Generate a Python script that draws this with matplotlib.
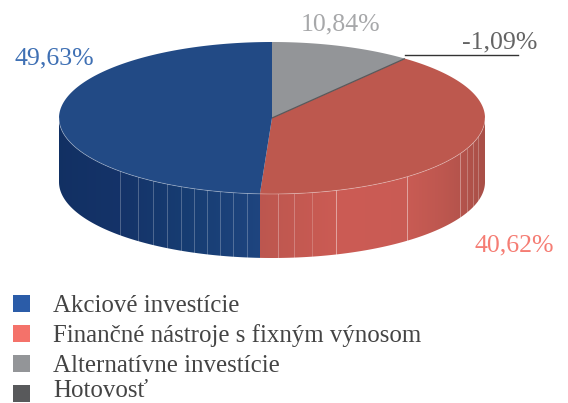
import numpy as np
import matplotlib
matplotlib.use('Agg')
import matplotlib.pyplot as plt
from matplotlib.patches import Polygon, Rectangle

# chart values, clockwise from 12 o'clock
categories = ['Alternatívne investície', 'Hotovosť', 'Finančné nástroje s fixným výnosom', 'Akciové investície']
values = [10.84, -1.09, 40.62, 49.63]
value_labels = ['10,84%', '-1,09%', '40,62%', '49,63%']
legend_order = [3, 2, 0, 1]

top_colors = ['#939598', '#58595b', '#bd584e', '#224a85']
legend_colors = ['#939598', '#58595b', '#f4726a', '#2b5ca8']
label_colors = ['#a7a8aa', '#646464', '#f57d74', '#3f70b4']

plt.rcParams['font.family'] = ['Liberation Serif', 'DejaVu Serif']

# ellipse geometry in pixels
cx, cy = 272, 118
rx, ry = 213, 76
depth = 64


def edge(t):
    t = np.radians(t)
    return cx + rx * np.sin(t), cy - ry * np.cos(t)


fig = plt.figure(figsize=(5.68, 4.03), dpi=100)
ax = fig.add_axes([0, 0, 1, 1])

# negative value gets only a sliver, the rest shares the full circle
positive_total = sum(v for v in values if v > 0)
angles = [0]
for v in values:
    angles.append(angles[-1] + max(v, 0) / positive_total * 360)

# side wall: horizontal colour ramp clipped to the wall shape
red_stops = ([261, 340, 405, 445, 485], [(0.74, 0.34, 0.31), (0.80, 0.36, 0.33), (0.79, 0.36, 0.33), (0.74, 0.34, 0.31), (0.66, 0.31, 0.28)])
blue_stops = ([59, 120, 190, 261], [(0.07, 0.19, 0.39), (0.08, 0.20, 0.41), (0.09, 0.24, 0.45), (0.12, 0.27, 0.50)])


def strip_color(x, stops):
    return [np.interp(x, stops[0], [c[i] for c in stops[1]]) for i in range(3)]


split_x, _ = edge(angles[3])
ramp_x = np.arange(59, 486)
ramp = np.array([[strip_color(x + 0.5, red_stops if x + 0.5 > split_x else blue_stops) for x in ramp_x]])
wall = ax.imshow(ramp, extent=(59, 486, 270, 100), aspect='auto', interpolation='nearest', zorder=1)
t = np.linspace(90, 270, 300)
x, y = edge(t)
wall_shape = Polygon(np.r_[np.c_[x, y], np.c_[x, y + depth][::-1]], closed=True, transform=ax.transData, facecolor='none', edgecolor='none')
ax.add_patch(wall_shape)
wall.set_clip_path(wall_shape)

# facet lines on the wall
facet_x = [120, 138, 153, 167, 181, 194, 207, 220, 233, 247, 278, 294, 312, 336, 407, 460, 467, 473, 478]
facet_alpha = [0.25, 0.25, 0.25, 0.25, 0.25, 0.25, 0.25, 0.25, 0.25, 0.25, 0.3, 0.25, 0.2, 0.45, 0.45, 0.35, 0.25, 0.25, 0.25]
for fx, al in zip(facet_x, facet_alpha):
    dy = ry * np.sqrt(1 - ((fx - cx) / rx) ** 2)
    ax.plot([fx, fx], [cy + dy, cy + dy + depth], color='white', lw=0.7, alpha=al, zorder=2)

# top surface
for i, v in enumerate(values):
    t = np.linspace(angles[i], angles[i + 1], 200)
    x, y = edge(t)
    pts = np.r_[[[cx, cy]], np.c_[x, y]]
    ax.add_patch(Polygon(pts, closed=True, facecolor=top_colors[i], edgecolor='none', zorder=3))

# the thin dark slice between grey and red
x1, y1 = edge(angles[1])
ax.plot([cx, x1], [cy, y1], color=top_colors[1], lw=0.9, solid_capstyle='butt', zorder=4)

# light rim along the front edge
t = np.linspace(90, 270, 300)
x, y = edge(t)
ax.plot(x, y, color='white', lw=0.6, alpha=0.35, zorder=4)

# value labels
ax.text(54, 58, value_labels[3], color=label_colors[3], fontsize=18.6, ha='center', va='center')
ax.text(341, 24, value_labels[0], color=label_colors[0], fontsize=18.6, ha='center', va='center')
ax.text(500, 42, value_labels[1], color=label_colors[1], fontsize=18.6, ha='center', va='center')
ax.text(514, 245, value_labels[2], color=label_colors[2], fontsize=18.6, ha='center', va='center')
ax.plot([405, 518], [55, 55], color='#333333', lw=1, zorder=4)

# legend, last row sits a little higher so it stays inside the picture
legend_y = [295, 325, 355, 385]
text_y = [312, 342, 372, 397]
for y, ty, i in zip(legend_y, text_y, legend_order):
    ax.add_patch(Rectangle((13, y), 17, 17, facecolor=legend_colors[i], edgecolor='none'))
    ax.text(53, ty, categories[i], color='#444444', fontsize=17.9, ha='left', va='baseline')

ax.set_xlim(0, 568)
ax.set_ylim(403, 0)
ax.axis('off')

fig.savefig('out.png', dpi=100)
